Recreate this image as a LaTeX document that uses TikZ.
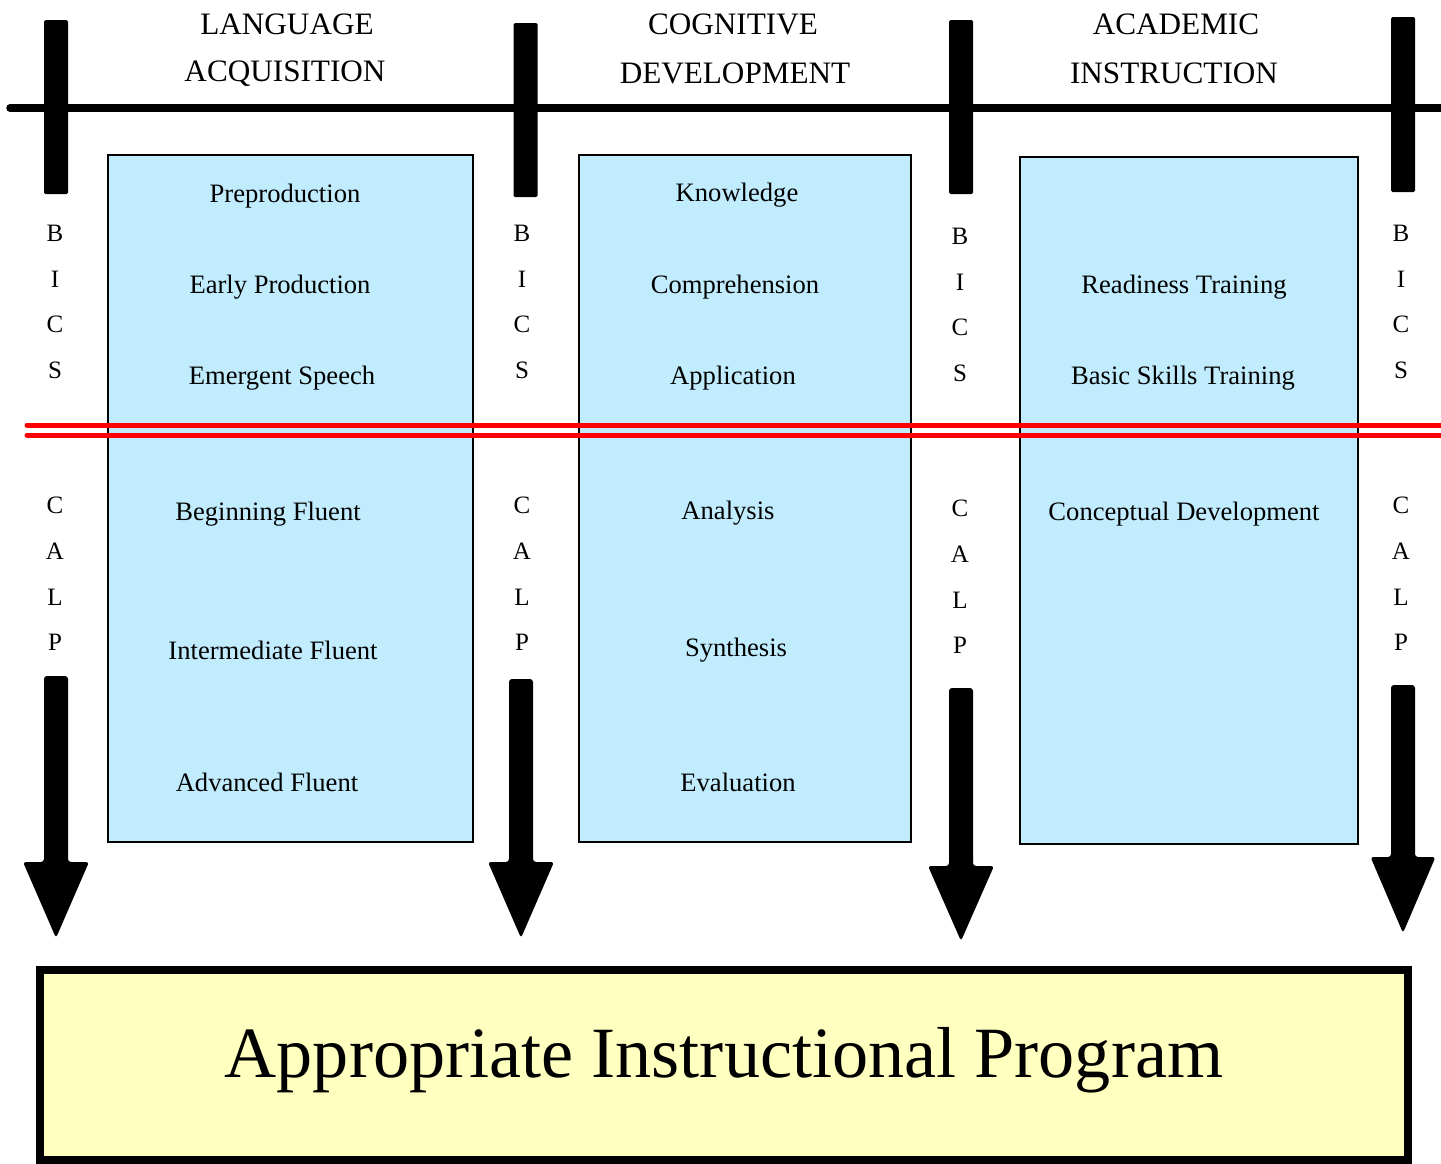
\documentclass[tikz,border=0pt]{standalone}
\usepackage{fontspec}
\setmainfont{Liberation Serif}
\definecolor{boxblue}{HTML}{C0ECFE}
\definecolor{boxyellow}{HTML}{FFFFC0}
\definecolor{redline}{HTML}{FF0000}
\begin{document}
\begin{tikzpicture}[x=1pt,y=-1pt,
  stagebox/.style={draw=black, line width=2pt, fill=boxblue, outer sep=0pt},
  itemtxt/.style={font=\fontsize{26.6}{30}\selectfont, inner sep=0pt},
  hdrtxt/.style={font=\fontsize{31.2}{34}\selectfont, inner sep=0pt},
  lettertxt/.style={font=\fontsize{25}{28}\selectfont, inner sep=0pt},
  bartip/.style={fill=black, rounded corners=1.5pt},
  blockarrow/.style={fill=black, rounded corners=3pt}]
\useasboundingbox (0,0) rectangle (1441,1163);

% horizontal timeline
\coordinate (hl) at (10,108);
\coordinate (hr) at (1445,108);
\draw[line width=7.5pt, line cap=round] (hl) -- (hr);

% vertical bars
\foreach \c/\t/\b in {56/20/194, 525.5/23/197, 961/20/194, 1403/17/192}{
  \fill[bartip] ({\c-12},\t) rectangle ({\c+12},\b);
}

% red double line
\coordinate (rl1) at (27,425);
\coordinate (rr1) at (1445,425);
\coordinate (rl2) at (27,435);
\coordinate (rr2) at (1445,435);

% stage boxes
\node[stagebox, minimum width=365pt, minimum height=687pt, anchor=north west] (boxA) at (108,155) {};
\node[stagebox, minimum width=332pt, minimum height=687pt, anchor=north west] (boxB) at (579,155) {};
\node[stagebox, minimum width=338pt, minimum height=687pt, anchor=north west] (boxC) at (1020,157) {};

\draw[redline, line width=5pt, line cap=round] (rl1) -- (rr1);
\draw[redline, line width=5pt, line cap=round] (rl2) -- (rr2);

% headers
\node[hdrtxt] (h1a) at (287,24) {LANGUAGE};
\node[hdrtxt] (h1b) at (285,74) {ACQUISITION};
\node[hdrtxt] (h2a) at (733,24) {COGNITIVE};
\node[hdrtxt] (h2b) at (735,73) {DEVELOPMENT};
\node[hdrtxt] (h3a) at (1176,24) {ACADEMIC};
\node[hdrtxt] (h3b) at (1174,73) {INSTRUCTION};

% box texts
\node[itemtxt] (a1) at (285,196) {Preproduction};
\node[itemtxt] (a2) at (280,287) {Early Production};
\node[itemtxt] (a3) at (282,378) {Emergent Speech};
\node[itemtxt] (a4) at (268,514) {Beginning Fluent};
\node[itemtxt] (a5) at (273,650) {Intermediate Fluent};
\node[itemtxt] (a6) at (267,782) {Advanced Fluent};

\node[itemtxt] (b1) at (737,195) {Knowledge};
\node[itemtxt] (b2) at (735,287) {Comprehension};
\node[itemtxt] (b3) at (733,378) {Application};
\node[itemtxt] (b4) at (728,513) {Analysis};
\node[itemtxt] (b5) at (736,650) {Synthesis};
\node[itemtxt] (b6) at (738,782) {Evaluation};

\node[itemtxt] (c1) at (1184,287) {Readiness Training};
\node[itemtxt] (c2) at (1183,378) {Basic Skills Training};
\node[itemtxt] (c3) at (1184,514) {Conceptual Development};

% BICS / CALP letters
\foreach \x/\yo/\n in {55/0/1, 522/0/2, 960/3/3, 1401/0/4}{
  \node[lettertxt] (bB\n) at (\x,{233+\yo}) {B};
  \node[lettertxt] (bI\n) at (\x,{279+\yo}) {I};
  \node[lettertxt] (bC\n) at (\x,{324+\yo}) {C};
  \node[lettertxt] (bS\n) at (\x,{370+\yo}) {S};
  \node[lettertxt] (cC\n) at (\x,{505+\yo}) {C};
  \node[lettertxt] (cA\n) at (\x,{551+\yo}) {A};
  \node[lettertxt] (cL\n) at (\x,{597+\yo}) {L};
  \node[lettertxt] (cP\n) at (\x,{642+\yo}) {P};
}

% block arrows
\foreach \c/\t/\h/\hw/\p in {56/676/862/33/938, 521/679/862/33/938, 961/688/866/33/941, 1403/685/857/32.5/933}{
  \fill[blockarrow] ({\c-12},\t) -- ({\c+12},\t) -- ({\c+12},\h) -- ({\c+\hw},\h)
     -- (\c,\p) -- ({\c-\hw},\h) -- ({\c-12},\h) -- cycle;
}

% bottom box
\node[draw=black, line width=8pt, fill=boxyellow, outer sep=0pt, minimum width=1368pt, minimum height=190pt,
      anchor=north west] (prog) at (40,970) {};
\node[font=\fontsize{72.2}{80}\selectfont, inner sep=0pt] (progtxt) at (724,1060) {Appropriate Instructional Program};
\end{tikzpicture}
\end{document}
